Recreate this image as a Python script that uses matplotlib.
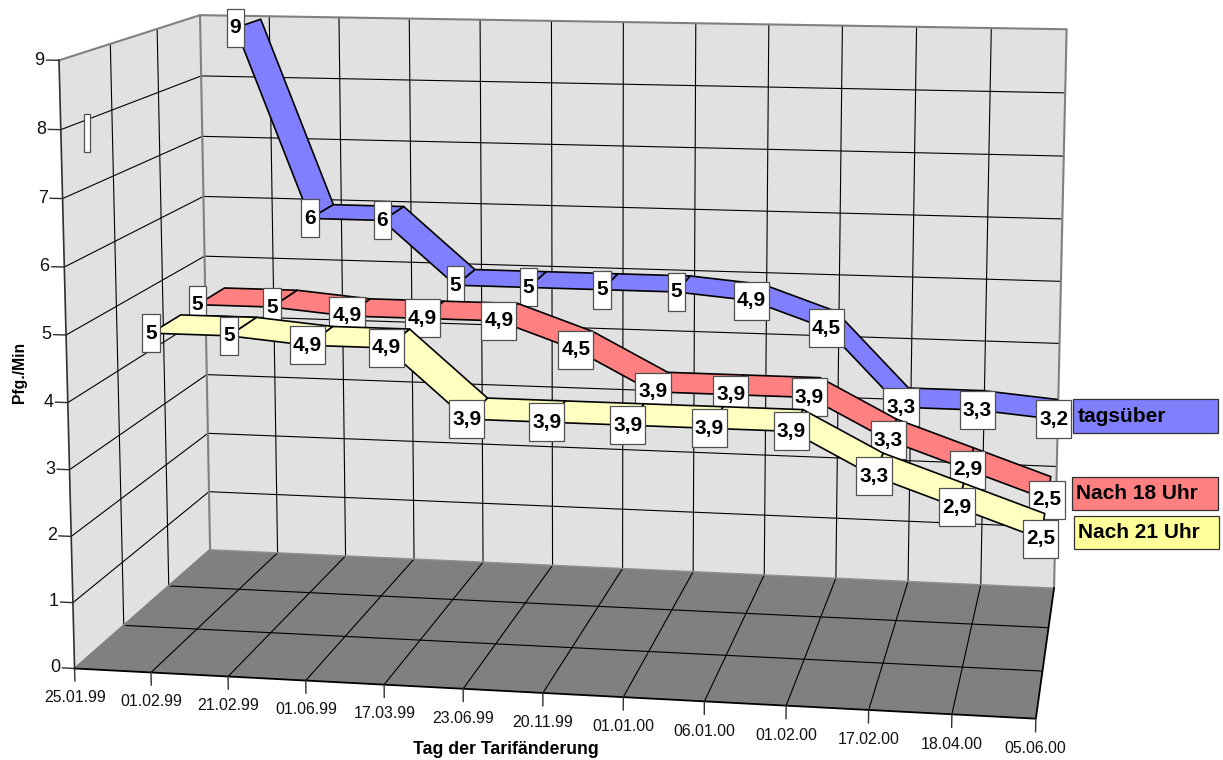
import numpy as np
import matplotlib
matplotlib.use("Agg")
import matplotlib.pyplot as plt
from matplotlib.axes import Axes
from matplotlib.path import Path
from matplotlib.patches import Rectangle
from matplotlib.transforms import Affine2D
from mpl_toolkits.mplot3d import art3d, proj3d

plt.rcParams['font.family'] = ['Liberation Sans', 'DejaVu Sans']

# data
dates = ['25.01.99', '01.02.99', '21.02.99', '01.06.99', '17.03.99', '23.06.99', '20.11.99',
         '01.01.00', '06.01.00', '01.02.00', '17.02.00', '18.04.00', '05.06.00']
tagsueber = [9, 6, 6, 5, 5, 5, 5, 4.9, 4.5, 3.3, 3.3, 3.2]
nach18 = [5, 5, 4.9, 4.9, 4.9, 4.5, 3.9, 3.9, 3.9, 3.3, 2.9, 2.5]
nach21 = [5, 5, 4.9, 4.9, 3.9, 3.9, 3.9, 3.9, 3.9, 3.3, 2.9, 2.5]
value_ticks = [0, 1, 2, 3, 4, 5, 6, 7, 8, 9]
legend_names = ['tagsüber', 'Nach 18 Uhr', 'Nach 21 Uhr']

W, H = 1223, 760
n_cat = len(dates) - 1  # 12 cells, first date has no values
n_depth = 3
z_top = 9

# box corners (category, depth, value) -> pixel in the picture, used to fit the camera
calib = [
    (0, 0, 0, 75, 668.3), (12, 0, 0, 1036, 719), (0, 3, 0, 210.7, 549.3), (12, 3, 0, 1054.3, 588.3),
    (0, 0, 9, 59.3, 60), (0, 3, 9, 200, 14.7), (12, 3, 9, 1066.7, 29.3), (0, 0, 5, 65.7, 335),
    (0, 3, 5, 204.7, 256.7), (0, 1, 0, 123.3, 625.7), (0, 2, 0, 169, 585.7), (1, 0, 0, 151, 672.7),
    (4, 0, 0, 384, 684.3), (11, 0, 0, 952.3, 714), (12, 1, 0, 1042, 671), (12, 2, 0, 1048.3, 628),
    (1, 3, 0, 276.7, 553.3), (11, 3, 9, 991.7, 28.3), (11, 3, 0, 981, 584.3), (1, 3, 9, 269, 16),
    (2, 3, 9, 339.3, 17.3), (0, 1, 9, 110, 44.3), (0, 2, 9, 157.3, 29.3),
    (12, 3, 8, 1065, 92.7), (12, 3, 7, 1063.3, 156),
]


def fit_camera(points):
    a = []
    b = []
    for x, y, z, u, v in points:
        a.append([x, y, z, 1, 0, 0, 0, 0, -u * x, -u * y, -u * z])
        a.append([0, 0, 0, 0, x, y, z, 1, -v * x, -v * y, -v * z])
        b += [u, v]
    p = np.linalg.lstsq(np.array(a, float), np.array(b, float), rcond=None)[0]
    return np.array([p[:4], p[4:8], [0, 1, 0, 0], [p[8], p[9], p[10], 1]])


def label_box(x0, y0, w, h, scale):
    # fixed height, tall white box like the Excel labels
    cy = y0 + h / 2
    return Path.unit_rectangle().transformed(Affine2D().scale(w + 6, 38).translate(x0 - 3, cy - 19))


def empty_box(x0, y0, w, h, scale):
    cx, cy = x0 + w / 2, y0 + h / 2
    return Path.unit_rectangle().transformed(Affine2D().scale(6, 38).translate(cx - 3, cy - 19))


fig = plt.figure(figsize=(W / 100, H / 100), dpi=100)
ax = fig.add_axes([0, 0, 1, 1], projection='3d')
ax.set_axis_off()
ax.computed_zorder = False
ax.patch.set_visible(False)
ax.set_proj_type('ortho')  # no clipping of lines, the matrix below does the perspective

# own camera, pixel coords -> the 2d limits of the axes
x0, x1 = ax.viewLim.intervalx
y0, y1 = ax.viewLim.intervaly
to_view = np.array([[(x1 - x0) / W, 0, 0, x0],
                    [0, (y0 - y1) / H, 0, y1],
                    [0, 0, 1, 0],
                    [0, 0, 0, 1]])
M = to_view @ fit_camera(calib)
ax.get_proj = lambda: M
ax.apply_aspect = lambda position=None: None


def poly(verts, face, edge='none', lw=0.0, zorder=1.0):
    p = art3d.Poly3DCollection(verts, facecolors=face, edgecolors=edge, linewidths=lw)
    ax.add_collection3d(p, autolim=False)
    p.set_zorder(zorder)


def text3(x, d, z, s, **kw):
    # plain text, placed where the camera puts the 3d point
    u, v, _ = proj3d.proj_transform(x, d, z, M)
    return Axes.text(ax, float(u), float(v), s, **kw)


# walls and floor
poly([[(0, n_depth, 0), (n_cat, n_depth, 0), (n_cat, n_depth, z_top), (0, n_depth, z_top)]], '#E1E1E1', zorder=0.1)
poly([[(0, 0, 0), (0, n_depth, 0), (0, n_depth, z_top), (0, 0, z_top)]], '#E1E1E1', zorder=0.1)
poly([[(0, 0, 0), (n_cat, 0, 0), (n_cat, n_depth, 0), (0, n_depth, 0)]], '#808080', zorder=0.1)

grid = dict(color='black', lw=0.8, zorder=2)
for z in value_ticks[1:-1]:
    ax.plot([0, 0, n_cat], [0, n_depth, n_depth], [z, z, z], **grid)
for d in range(1, n_depth):
    ax.plot([0, 0], [d, d], [0, z_top], **grid)
    ax.plot([0, n_cat], [d, d], [0, 0], **grid)
for i in range(1, n_cat):
    ax.plot([i, i], [n_depth, n_depth], [0, z_top], **grid)
    ax.plot([i, i], [0, n_depth], [0, 0], **grid)

edge_style = dict(color='#808080', lw=1.5, zorder=2.5)
ax.plot([0, 0, n_cat, n_cat], [0, n_depth, n_depth, n_depth], [z_top, z_top, z_top, 0], **edge_style)
ax.plot([0, 0], [n_depth, n_depth], [0, z_top], **edge_style)
ax.plot([0, 0], [0, n_depth], [0, 0], **edge_style)
ax.plot([0, n_cat], [n_depth, n_depth], [0, 0], color='#909090', lw=1.0, zorder=2.5)

# axes
ax.plot([0, 0], [0, 0], [0, z_top], color='#303030', lw=1.2, zorder=2.6)
ax.plot([0, n_cat, n_cat], [0, 0, n_depth], [0, 0, 0], color='black', lw=1.3, zorder=2.6)
for z in value_ticks:
    ax.plot([-0.16, 0], [0, 0], [z, z], color='#303030', lw=1.0, zorder=2.6)
    text3(-0.19, 0, z, str(z), ha='right', va='center', fontsize=13, color='#111111', zorder=2.6)
for i, d in enumerate(dates):
    ax.plot([i, i], [0, 0], [0, -0.19], color='#303030', lw=1.0, zorder=2.6)
    text3(i, 0, -0.44, d, ha='center', va='center', fontsize=11.4, color='#111111', zorder=2.6)

series = [(tagsueber, 2.5, '#8080FF'), (nach18, 1.5, '#FF8080'), (nach21, 0.5, '#FFFFC0')]
xs = list(range(1, n_cat + 1))
for k, (vals, d, col) in enumerate(series):
    front, back = d - 0.35, d + 0.28
    zo = 3 + k
    quads = []
    for i in range(len(vals) - 1):
        quads.append([(xs[i], front, vals[i]), (xs[i + 1], front, vals[i + 1]),
                      (xs[i + 1], back, vals[i + 1]), (xs[i], back, vals[i])])
    poly(quads, col, edge='black', lw=1.2, zorder=zo)
    for x, v in zip(xs, vals):
        text3(x, front, v, f'{v:g}'.replace('.', ','), ha='center', va='center', fontsize=15,
              fontweight='bold', color='black', zorder=zo + 0.5,
              bbox=dict(boxstyle=label_box, fc='white', ec='#505050', lw=0.9))

# label of the date without a value
text3(0, 0.5, 7.8, ' ', ha='center', va='center', fontsize=14, zorder=3.5,
      bbox=dict(boxstyle=empty_box, fc='white', ec='#505050', lw=0.9))

# flat layer for titles and legend
top = fig.add_axes([0, 0, 1, 1], zorder=5)
top.set_xlim(0, W)
top.set_ylim(H, 0)
top.axis('off')
top.text(506, 750, 'Tag der Tarifänderung', ha='center', va='center', fontsize=12.7, fontweight='bold')
top.text(19, 372, 'Pfg./Min', ha='center', va='center', rotation=90, fontsize=11.3, fontweight='bold')

legend_colors = ['#8080FF', '#FF8080', '#FFFF99']
legend_boxes = [(1073.3, 399, 145, 34.3), (1072.3, 477, 145.4, 33), (1073.7, 516.3, 145, 33)]
for name, c, (lx, ly, lw_, lh) in zip(legend_names, legend_colors, legend_boxes):
    top.add_patch(Rectangle((lx, ly), lw_, lh, fc=c, ec='#303030', lw=0.9))
    top.text(lx + 4, ly + lh / 2, name, ha='left', va='center', fontsize=15, fontweight='bold')

fig.savefig('out.png', dpi=100)
